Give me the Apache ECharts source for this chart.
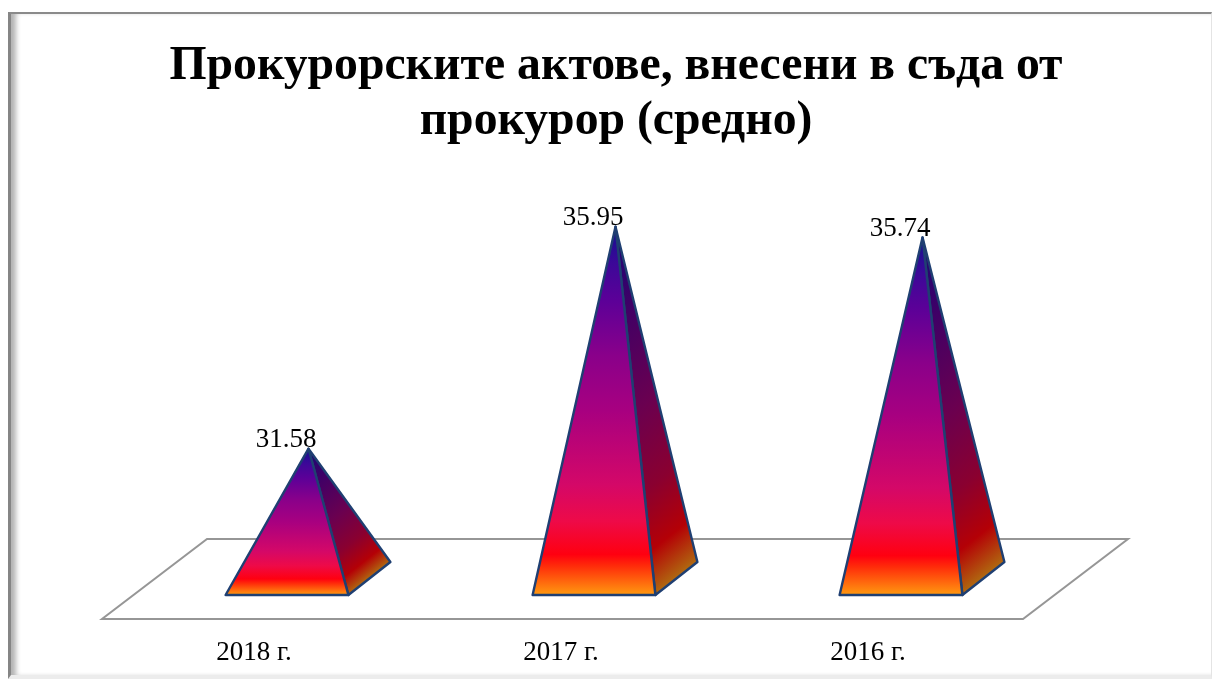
<!DOCTYPE html>
<html>
<head>
<meta charset="utf-8">
<title>Прокурорските актове</title>
<script src="https://cdn.jsdelivr.net/npm/echarts@6/dist/echarts.min.js"></script>
<style>
  html, body { margin: 0; padding: 0; background: #fff; overflow: hidden; }
  #main { position: absolute; left: 0; top: 0; width: 1212px; height: 679px; }
  /* frame of the original picture */
  #frame {
    position: absolute; left: 8px; top: 12px; width: 1204px; height: 667px;
    box-sizing: border-box; pointer-events: none;
    border-top: 2px solid #8a8a8a; border-left: 3px solid #858585;
    border-right: 1px solid #e4e4e4; border-bottom: 4px solid #ececec;
    box-shadow: inset 7px 0 5px -2px #b4b4b4;
  }
</style>
</head>
<body>
<div id="main"></div>
<div id="frame"></div>
<script>
var titleText = 'Прокурорските актове, внесени в съда от\nпрокурор (средно)'
var categories = ['2018 г.', '2017 г.', '2016 г.']
var values = [31.58, 35.95, 35.74]

var frontStops = [
  [0, '#14108f'], [0.1, '#3c0898'], [0.2, '#5c0098'], [0.35, '#8a008a'], [0.5, '#a80080'],
  [0.7, '#d40868'], [0.8, '#ee0a48'], [0.89, '#ff0010'], [0.92, '#ff2a0a'], [1, '#ff9a10']
]
var sideStops = [
  [0, '#1a0878'], [0.2, '#3c0068'], [0.5, '#6a0050'], [0.72, '#8a0030'], [0.88, '#b40006'], [1, '#b06a10']
]

var chart = echarts.init(document.getElementById('main'))

function toStops(list) {
  return list.map(function (s) { return { offset: s[0], color: s[1] } })
}

function pyramid(params, api) {
  var p = api.coord([api.value(0), api.value(1)])
  var bottom = params.coordSys.y + params.coordSys.height
  var band = api.size([1, 0])[0]
  var bw = band * 0.4
  var dx = 42, dy = 33
  var left = p[0] + 31.5 - bw / 2
  var right = left + bw
  var apex = [left + bw / 2 + 21.5, p[1]]
  var lineStyle = { stroke: '#1f3f72', lineWidth: 2.4, lineJoin: 'round' }
  // side gradient runs square to the back edge of the base
  var elen = Math.sqrt(dx * dx + dy * dy)
  var t = ((apex[0] - right) * dx - (apex[1] - bottom) * dy) / elen
  var foot = [right + t * dx / elen, bottom - t * dy / elen]
  return {
    type: 'group',
    children: [
      {
        type: 'polygon',
        shape: { points: [apex, [right, bottom], [right + dx, bottom - dy]] },
        style: Object.assign({
          fill: new echarts.graphic.LinearGradient(apex[0], apex[1], foot[0], foot[1], toStops(sideStops), true)
        }, lineStyle)
      },
      {
        type: 'polygon',
        shape: { points: [apex, [left, bottom], [right, bottom]] },
        style: Object.assign({
          fill: new echarts.graphic.LinearGradient(0, apex[1], 0, bottom, toStops(frontStops), true)
        }, lineStyle)
      },
      {
        type: 'text',
        style: {
          x: left + bw / 2 - 1, y: apex[1] + 5, text: api.value(1).toFixed(2),
          align: 'center', verticalAlign: 'bottom',
          font: '27px "Liberation Serif"', fill: '#000'
        }
      }
    ]
  }
}

// floor plane under the bars, follows the plot area
function floor(params, api) {
  var c = params.coordSys
  var y0 = c.y + c.height + 24
  return {
    type: 'polygon',
    silent: true,
    shape: { points: [[c.x, y0], [c.x + c.width, y0], [c.x + c.width + 105, y0 - 80], [c.x + 105, y0 - 80]] },
    style: { fill: '#fff', stroke: '#969696', lineWidth: 2 }
  }
}

chart.setOption({
  animation: false,
  backgroundColor: '#fff',
  title: {
    text: titleText,
    left: 611, top: 34.5, textAlign: 'center',
    textStyle: { fontFamily: 'Liberation Serif', fontWeight: 'bold', fontSize: 47.7, lineHeight: 55, color: '#000' }
  },
  grid: { left: 102, width: 921, top: 224.2, bottom: 84 },
  xAxis: {
    type: 'category',
    data: categories,
    axisLine: { show: false },
    axisTick: { show: false },
    axisLabel: { fontFamily: 'Liberation Serif', fontSize: 27, color: '#000', margin: 44, padding: [0, 3, 0, 0] }
  },
  yAxis: { type: 'value', min: 28.7, max: 36, show: false, splitLine: { show: false } },
  series: [
    { type: 'custom', data: [[0, 0]], renderItem: floor, z: 1, silent: true, clip: false },
    {
      type: 'custom',
      data: values.map(function (v, i) { return [i, v] }),
      encode: { x: 0, y: 1 },
      renderItem: pyramid,
      z: 2,
      clip: false
    }
  ]
})
</script>
</body>
</html>
